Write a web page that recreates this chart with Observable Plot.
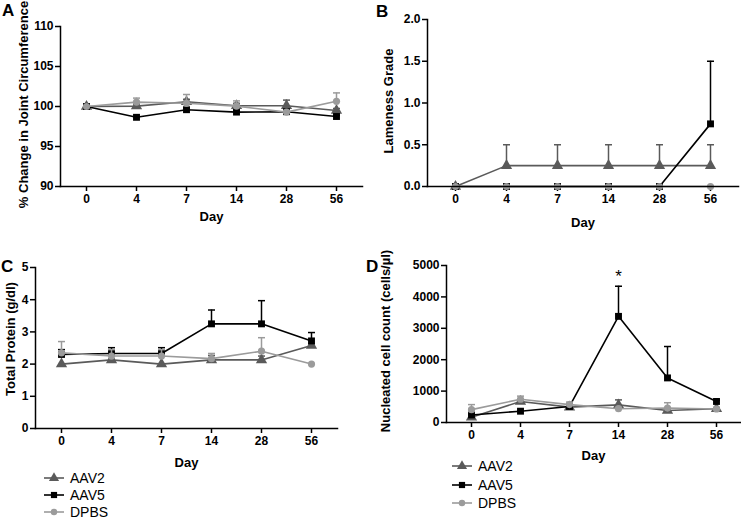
<!DOCTYPE html>
<html><head><meta charset="utf-8">
<script src="https://cdn.jsdelivr.net/npm/d3@7"></script>
<script src="https://cdn.jsdelivr.net/npm/@observablehq/plot@0.6"></script>
<style>
body{margin:0;background:#fff;}
#root{position:relative;width:741px;height:519px;font-family:"Liberation Sans",Arial,sans-serif;overflow:hidden;background:#fff}
.panel{position:absolute}
.letter{position:absolute;font-weight:bold;font-size:17px;line-height:17px}
.legrow{position:absolute;font-size:14px;line-height:16px;height:16px;display:flex;align-items:center}
.legrow svg{margin-right:6px}
</style></head><body><div id="root"></div>
<script>
const days = ["0","4","7","14","28","56"];
const groups = ["AAV2","AAV5","DPBS"];
const groupColors = ["#5a5a5a","#000000","#9b9b9b"];
const groupSymbols = ["triangle","square","circle"];
const groupR = [4.2, 3.9, 3.6];

// Panel A: % change in joint circumference
const jointAAV2 = [100, 100.05, 100.6, 100.1, 100.1, 99.5];
const jointAAV2Err = [0, 0.25, 0.3, 0.3, 0.7, 0.25];
const jointAAV5 = [100, 98.65, 99.6, 99.3, 99.35, 98.75];
const jointAAV5Err = [0, 0.1, 0.2, 0.15, 0.2, 0.15];
const jointDPBS = [100, 100.55, 100.4, 100.05, 99.3, 100.65];
const jointDPBSErr = [0, 0.5, 1.1, 0.65, 0.2, 1.05];
const jointTicks = [90, 95, 100, 105, 110];

// Panel B: lameness grade
const lameAAV2 = [0, 0.25, 0.25, 0.25, 0.25, 0.25];
const lameAAV2Err = [0, 0.25, 0.25, 0.25, 0.25, 0.25];
const lameAAV5 = [0, 0, 0, 0, 0, 0.75];
const lameAAV5Err = [0, 0, 0, 0, 0, 0.75];
const lameDPBS = [0, 0, 0, 0, 0, 0];
const lameDPBSErr = [0, 0, 0, 0, 0, 0];
const lameTicks = [0, 0.5, 1.0, 1.5, 2.0];

// Panel C: total protein
const protAAV2 = [2.0, 2.13, 2.0, 2.13, 2.13, 2.58];
const protAAV2Err = [0, 0.03, 0, 0.14, 0.12, 0.05];
const protAAV5 = [2.3, 2.33, 2.33, 3.25, 3.25, 2.72];
const protAAV5Err = [0.15, 0.18, 0.18, 0.43, 0.72, 0.26];
const protDPBS = [2.35, 2.25, 2.25, 2.17, 2.4, 2.0];
const protDPBSErr = [0.35, 0.2, 0.2, 0.16, 0.42, 0];
const protTicks = [0, 1, 2, 3, 4, 5];

// Panel D: nucleated cell count
const cellAAV2 = [170, 670, 490, 560, 380, 440];
const cellAAV2Err = [60, 60, 40, 160, 60, 40];
const cellAAV5 = [240, 360, 510, 3380, 1420, 670];
const cellAAV5Err = [30, 20, 30, 960, 1000, 40];
const cellDPBS = [410, 740, 570, 440, 460, 430];
const cellDPBSErr = [160, 100, 80, 40, 170, 30];
const cellTicks = [0, 1000, 2000, 3000, 4000, 5000];
const cellStars = [{day: "14", v: 4650, label: "*"}];

const root = document.getElementById("root");

const capSymbol = {draw(context) { context.moveTo(-3.5, 0); context.lineTo(3.5, 0); }};

function makePanel(cfg) {
  const marks = [
    Plot.axisX({tickSize: 5, tickPadding: 3, strokeWidth: 1.5, label: null, fontSize: 12}),
    Plot.axisY(cfg.yTicks, {tickFormat: cfg.tickFormat, tickSize: 5, tickPadding: 2, strokeWidth: 1.5, label: null, fontSize: 12})
  ];
  groups.forEach((g, gi) => {
    const rows = days.map((d, di) => ({g, day: d, v: cfg.values[gi][di], e: cfg.errs[gi][di]}));
    const eb = rows.filter(d => d.e > 0);
    marks.push(
      Plot.ruleX(eb, {x: "day", y1: "v", y2: d => d.v + d.e, stroke: groupColors[gi], strokeWidth: 1.5}),
      Plot.dot(eb, {x: "day", y: d => d.v + d.e, symbol: capSymbol, stroke: groupColors[gi], fill: "none", strokeWidth: 1.5}),
      Plot.line(rows, {x: "day", y: "v", stroke: groupColors[gi], strokeWidth: 1.6}),
      Plot.dot(rows, {x: "day", y: "v", symbol: groupSymbols[gi], fill: groupColors[gi], stroke: "none", r: groupR[gi]})
    );
  });
  if (cfg.stars) marks.push(Plot.text(cfg.stars, {x: "day", y: "v", text: "label", fontSize: 17, fontWeight: "normal"}));
  marks.push(
    Plot.frame({anchor: "left", strokeWidth: 1.5}),
    Plot.frame({anchor: "bottom", strokeWidth: 1.5}),
    Plot.text(["Day"], {text: d => d, frameAnchor: "bottom", lineAnchor: "middle", textAnchor: "middle", dy: cfg.dayDy, fontSize: 13}),
    Plot.text([cfg.yLabel], {text: d => d, frameAnchor: "left", textAnchor: "middle", lineAnchor: "middle", dx: cfg.yLabelDx, dy: cfg.yLabelDy, rotate: -90, fontSize: 13})
  );
  const svg = Plot.plot({
    width: cfg.width, height: cfg.height,
    marginLeft: cfg.ml, marginRight: cfg.mr, marginTop: cfg.mt, marginBottom: cfg.mb,
    x: {type: "point", domain: days, padding: 0.5},
    y: {domain: cfg.yDomain},
    style: {fontFamily: "'Liberation Sans', Arial, sans-serif", fontWeight: "bold", fontSize: "12px", color: "black", background: "transparent", overflow: "visible"},
    marks
  });
  const div = document.createElement("div");
  div.className = "panel";
  div.style.left = cfg.left + "px";
  div.style.top = cfg.top + "px";
  div.appendChild(svg);
  root.appendChild(div);
}

makePanel({left: 0, top: 0, width: 370, height: 240, ml: 60, mr: 8, mt: 26, mb: 54,
  values: [jointAAV2, jointAAV5, jointDPBS], errs: [jointAAV2Err, jointAAV5Err, jointDPBSErr],
  yDomain: [90, 110], yTicks: jointTicks, tickFormat: d => String(d),
  yLabel: "% Change in Joint Circumference", yLabelDx: -37, yLabelDy: -2, dayDy: 30});

makePanel({left: 370, top: 0, width: 371, height: 240, ml: 57, mr: 3, mt: 19, mb: 54,
  values: [lameAAV2, lameAAV5, lameDPBS], errs: [lameAAV2Err, lameAAV5Err, lameDPBSErr],
  yDomain: [0, 2], yTicks: lameTicks, tickFormat: d => d.toFixed(1),
  yLabel: "Lameness Grade", yLabelDx: -39, yLabelDy: -2, dayDy: 36});

makePanel({left: 0, top: 250, width: 370, height: 225, ml: 35, mr: 33, mt: 17, mb: 47,
  values: [protAAV2, protAAV5, protDPBS], errs: [protAAV2Err, protAAV5Err, protDPBSErr],
  yDomain: [0, 5], yTicks: protTicks, tickFormat: d => String(d),
  yLabel: "Total Protein (g/dl)", yLabelDx: -25, yLabelDy: -9, dayDy: 34});

makePanel({left: 370, top: 250, width: 371, height: 225, ml: 76, mr: 1, mt: 15, mb: 53,
  values: [cellAAV2, cellAAV5, cellDPBS], errs: [cellAAV2Err, cellAAV5Err, cellDPBSErr],
  yDomain: [0, 5000], yTicks: cellTicks, tickFormat: d => String(d),
  yLabel: "Nucleated cell count (cells/\u00b5l)", yLabelDx: -61, yLabelDy: -3, dayDy: 33,
  stars: cellStars});

// panel letters
[["A", 2, 2], ["B", 376, 3], ["C", 1, 258], ["D", 366, 258]].forEach(([t, x, y]) => {
  const el = document.createElement("div");
  el.className = "letter"; el.textContent = t;
  el.style.left = x + "px"; el.style.top = y + "px";
  root.appendChild(el);
});

// legends
function legend(x, ys) {
  groups.forEach((g, gi) => {
    const row = document.createElement("div");
    row.className = "legrow";
    row.style.left = x + "px";
    row.style.top = (ys[gi] - 8) + "px";
    const ns = "http://www.w3.org/2000/svg";
    const s = document.createElementNS(ns, "svg");
    s.setAttribute("width", 20); s.setAttribute("height", 12);
    const ln = document.createElementNS(ns, "line");
    ln.setAttribute("x1", 0); ln.setAttribute("x2", 20); ln.setAttribute("y1", 6); ln.setAttribute("y2", 6);
    ln.setAttribute("stroke", groupColors[gi]); ln.setAttribute("stroke-width", 1.6);
    s.appendChild(ln);
    const p = document.createElementNS(ns, "path");
    const sym = {triangle: d3.symbolTriangle, square: d3.symbolSquare, circle: d3.symbolCircle}[groupSymbols[gi]];
    p.setAttribute("d", d3.symbol(sym, groupR[gi] * groupR[gi] * Math.PI * 0.8)());
    p.setAttribute("transform", "translate(10,6)");
    p.setAttribute("fill", groupColors[gi]);
    s.appendChild(p);
    row.appendChild(s);
    const sp = document.createElement("span");
    sp.textContent = g;
    row.appendChild(sp);
    root.appendChild(row);
  });
}
legend(44, [478, 495, 512]);
legend(452, [466, 485, 503]);
</script>
</body></html>
